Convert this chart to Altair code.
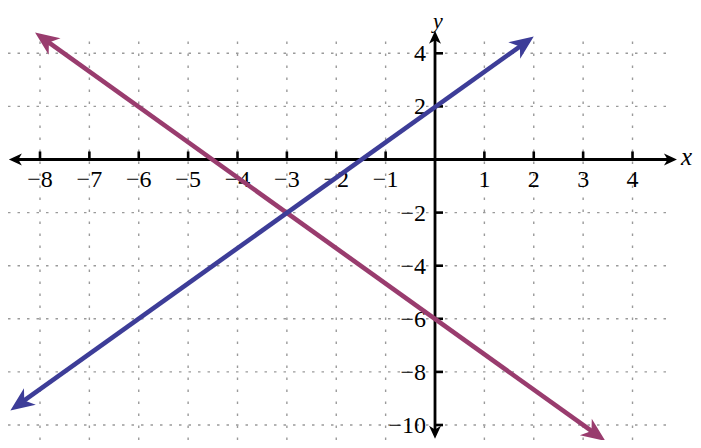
import math
import altair as alt
import pandas as pd

# ---- data ----
x_ticks = [-8, -7, -6, -5, -4, -3, -2, -1, 1, 2, 3, 4]
x_labels = ["−8", "−7", "−6", "−5", "−4", "−3", "−2", "−1", "1", "2", "3", "4"]
y_ticks = [4, 2, -2, -4, -6, -8, -10]
y_labels = ["4", "2", "−2", "−4", "−6", "−8", "−10"]
grid_x = [-8, -7, -6, -5, -4, -3, -2, -1, 1, 2, 3, 4]
grid_y = [4, 2, -2, -4, -6, -8, -10]
blue_x = [-8.6, 2.0]
blue_y = [-9.45, 4.63]
purple_x = [-8.1, 3.45]
purple_y = [4.78, -10.6]
x_axis_ends = [-8.63, 4.9]
y_axis_ends = [-10.52, 4.85]

BLUE = "#3d3d98"
PURPLE = "#993c6e"

X_DOM = [-8.648, 5.225]
Y_DOM = [-10.565, 5.706]
W, H = 685, 432
KX = W / (X_DOM[1] - X_DOM[0])
KY = H / (Y_DOM[1] - Y_DOM[0])

xs = alt.Scale(domain=X_DOM, nice=False, zero=False)
ys = alt.Scale(domain=Y_DOM, nice=False, zero=False)


def X(f="x"):
    return alt.X(f"{f}:Q", scale=xs, axis=None)


def Y(f="y"):
    return alt.Y(f"{f}:Q", scale=ys, axis=None)


def pull_back(xt, yt, xo, yo, px):
    """move tip (xt,yt) back towards (xo,yo) by px pixels"""
    dx = (xt - xo) * KX
    dy = (yt - yo) * KY
    L = math.hypot(dx, dy)
    return xt - dx / L * px / KX, yt - dy / L * px / KY


def angle_of(xt, yt, xo, yo):
    dx = (xt - xo) * KX
    dys = -(yt - yo) * KY
    return math.degrees(math.atan2(dx, -dys)) % 360


# ---- grid ----
vgrid = pd.DataFrame({"x": grid_x, "y": [Y_DOM[0]] * len(grid_x), "y2": [4.7] * len(grid_x)})
hgrid = pd.DataFrame({"y": grid_y, "x": [X_DOM[0]] * len(grid_y), "x2": [4.72] * len(grid_y)})

vgrid_l = alt.Chart(vgrid).mark_rule(color="#9a9a9a", strokeWidth=1.4, strokeDash=[2.5, 9.5]).encode(
    x=X(), y=Y(), y2="y2:Q")
hgrid_l = alt.Chart(hgrid).mark_rule(color="#9a9a9a", strokeWidth=1.4, strokeDash=[2.5, 7]).encode(
    y=Y(), x=X(), x2="x2:Q")

# ---- axes ----
xa0 = pull_back(x_axis_ends[0], 0, x_axis_ends[1], 0, 8)
xa1 = pull_back(x_axis_ends[1], 0, x_axis_ends[0], 0, 8)
ya0 = pull_back(0, y_axis_ends[0], 0, y_axis_ends[1], 8)
ya1 = pull_back(0, y_axis_ends[1], 0, y_axis_ends[0], 8)
axes_df = pd.DataFrame({
    "x": [xa0[0], 0], "x2": [xa1[0], 0],
    "y": [0, ya0[1]], "y2": [0, ya1[1]],
})
axes_l = alt.Chart(axes_df).mark_rule(color="black", strokeWidth=2.8).encode(
    x=X(), x2="x2:Q", y=Y(), y2="y2:Q")

ARROW_SMALL = "M0,0 L0.92,2 L0,1.45 L-0.92,2 Z"
ARROW_BIG = "M0,0 L0.85,2 L0,1.42 L-0.85,2 Z"

axis_tips = pd.DataFrame({
    "x": [x_axis_ends[0], x_axis_ends[1], 0, 0],
    "y": [0, 0, y_axis_ends[0], y_axis_ends[1]],
    "a": [270, 90, 180, 0],
})
axis_tips_l = alt.Chart(axis_tips).mark_point(
    shape=ARROW_SMALL, filled=True, opacity=1, size=169, color="black", strokeWidth=0
).encode(x=X(), y=Y(), angle=alt.Angle("a:Q", scale=None))

xt_df = pd.DataFrame({"x": x_ticks, "y": [0] * len(x_ticks), "t": x_labels})
yt_df = pd.DataFrame({"y": y_ticks, "x": [0] * len(y_ticks), "t": y_labels})

xtick_l = alt.Chart(xt_df).mark_point(
    shape="M0,0 L0,-1", filled=False, size=256, color="black", strokeWidth=2.6, opacity=1
).encode(x=X(), y=Y())
ytick_l = alt.Chart(yt_df).mark_point(
    shape="M0,0 L1,0", filled=False, size=256, color="black", strokeWidth=2.6, opacity=1
).encode(x=X(), y=Y())

FONT = "Liberation Serif"
xlab_l = alt.Chart(xt_df).mark_text(
    font=FONT, fontSize=24, align="center", baseline="alphabetic", dy=28, color="black"
).encode(x=X(), y=Y(), text="t:N")
ylab_l = alt.Chart(yt_df).mark_text(
    font=FONT, fontSize=24, align="right", baseline="middle", dx=-9, dy=1, color="black"
).encode(x=X(), y=Y(), text="t:N")

titles_df = pd.DataFrame({
    "x": [(692 - 435) / 49.375, 0.06],
    "y": [0.0, (159.5 - 28) / 26.55],
    "t": ["x", "y"],
})
xtitle_l = alt.Chart(titles_df.iloc[[0]]).mark_text(
    font=FONT, fontSize=25, fontStyle="italic", align="right", baseline="middle", dy=-2, color="black"
).encode(x=X(), y=Y(), text="t:N")
ytitle_l = alt.Chart(titles_df.iloc[[1]]).mark_text(
    font=FONT, fontSize=22, fontStyle="italic", align="center", baseline="alphabetic", color="black"
).encode(x=X(), y=Y(), text="t:N")

# ---- lines ----
def line_layer(xv, yv, color):
    p0 = pull_back(xv[0], yv[0], xv[1], yv[1], 12)
    p1 = pull_back(xv[1], yv[1], xv[0], yv[0], 12)
    df = pd.DataFrame({"x": [p0[0], p1[0]], "y": [p0[1], p1[1]], "o": [0, 1]})
    ln = alt.Chart(df).mark_line(color=color, strokeWidth=4.6, strokeCap="butt").encode(
        x=X(), y=Y(), order="o:Q")
    tips = pd.DataFrame({
        "x": [xv[0], xv[1]],
        "y": [yv[0], yv[1]],
        "a": [angle_of(xv[0], yv[0], xv[1], yv[1]), angle_of(xv[1], yv[1], xv[0], yv[0])],
    })
    hd = alt.Chart(tips).mark_point(
        shape=ARROW_BIG, filled=True, opacity=1, size=576, color=color, strokeWidth=0
    ).encode(x=X(), y=Y(), angle=alt.Angle("a:Q", scale=None))
    return [ln, hd]


layers = [vgrid_l, hgrid_l, axes_l, axis_tips_l, xtick_l, ytick_l, xlab_l, ylab_l, xtitle_l, ytitle_l]
layers += line_layer(purple_x, purple_y, PURPLE)
layers += line_layer(blue_x, blue_y, BLUE)

chart = alt.layer(*layers).properties(
    width=W, height=H, padding=0, autosize="none", background="white"
).configure_view(stroke=None)

chart.save("out.html", embed_options={"renderer": "svg", "actions": False})
